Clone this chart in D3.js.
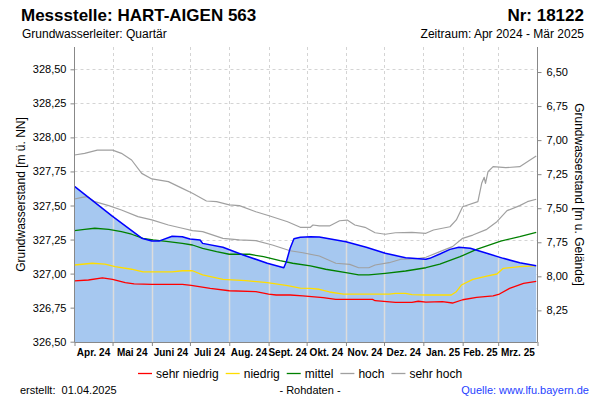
<!DOCTYPE html>
<html><head><meta charset="utf-8">
<script src="https://cdn.jsdelivr.net/npm/d3@7"></script>
<style>
body{margin:0;background:#fff}
svg{display:block;font-family:"Liberation Sans",Arial,sans-serif}
</style>
</head><body>
<svg id="c" width="600" height="400"></svg>
<script>
// ---------- DATA ----------
const monthLabels = ["Apr. 24","Mai 24","Juni 24","Juli 24","Aug. 24","Sept. 24","Okt. 24","Nov. 24","Dez. 24","Jan. 25","Feb. 25","Mrz. 25"];
const monthStarts = ["2024-04-01","2024-05-01","2024-06-01","2024-07-01","2024-08-01","2024-09-01","2024-10-01","2024-11-01","2024-12-01","2025-01-01","2025-02-01","2025-03-01","2025-04-01"];
const leftTicks = [326.5,326.75,327,327.25,327.5,327.75,328,328.25,328.5];
const rightTicks = [6.5,6.75,7,7.25,7.5,7.75,8,8.25];
const gelaende = 334.98;

const messwerte = [["2024-04-01",327.64],["2024-05-01",327.42],["2024-05-24",327.26],["2024-06-01",327.24],["2024-06-07",327.24],["2024-06-17",327.274],["2024-06-25",327.271],["2024-07-01",327.254],["2024-07-09",327.247],["2024-07-11",327.222],["2024-07-27",327.193],["2024-08-12",327.137],["2024-08-31",327.076],["2024-09-13",327.043],["2024-09-15",327.087],["2024-09-18",327.186],["2024-09-21",327.256],["2024-09-26",327.267],["2024-10-04",327.271],["2024-10-11",327.269],["2024-11-01",327.234],["2024-11-17",327.193],["2024-12-02",327.149],["2024-12-18",327.117],["2025-01-03",327.105],["2025-01-06",327.112],["2025-01-14",327.144],["2025-01-22",327.178],["2025-01-29",327.193],["2025-02-07",327.186],["2025-02-20",327.149],["2025-03-05",327.112],["2025-03-18",327.080],["2025-03-31",327.058]];

const sehrNiedrig = [["2024-04-01",326.946],["2024-04-12",326.953],["2024-04-23",326.968],["2024-05-01",326.958],["2024-05-11",326.933],["2024-05-18",326.924],["2024-06-01",326.921],["2024-06-25",326.921],["2024-07-02",326.914],["2024-07-17",326.892],["2024-08-01",326.874],["2024-08-22",326.867],["2024-09-01",326.850],["2024-09-07",326.843],["2024-09-18",326.843],["2024-09-28",326.836],["2024-10-14",326.823],["2024-10-24",326.811],["2024-11-22",326.811],["2024-11-24",326.801],["2024-12-10",326.789],["2024-12-23",326.789],["2024-12-28",326.797],["2025-01-03",326.791],["2025-01-16",326.794],["2025-01-24",326.784],["2025-02-01",326.808],["2025-02-12",326.826],["2025-02-25",326.836],["2025-03-02",326.850],["2025-03-10",326.892],["2025-03-21",326.929],["2025-03-31",326.943]];

const niedrig = [["2024-04-01",327.063],["2024-04-15",327.076],["2024-04-25",327.070],["2024-05-03",327.051],["2024-05-16",327.032],["2024-05-25",327.012],["2024-06-17",327.012],["2024-06-25",327.021],["2024-07-03",327.021],["2024-07-11",326.990],["2024-07-27",326.958],["2024-08-14",326.948],["2024-08-31",326.933],["2024-09-16",326.911],["2024-09-26",326.894],["2024-10-04",326.892],["2024-10-11",326.885],["2024-10-19",326.865],["2024-10-30",326.850],["2024-12-05",326.850],["2024-12-10",326.855],["2024-12-18",326.855],["2024-12-23",326.845],["2025-01-03",326.843],["2025-01-23",326.843],["2025-01-27",326.867],["2025-01-31",326.916],["2025-02-09",326.958],["2025-02-20",326.982],["2025-02-28",326.997],["2025-03-05",327.039],["2025-03-18",327.051],["2025-03-30",327.056]];

const mittel = [["2024-04-01",327.315],["2024-04-09",327.325],["2024-04-17",327.333],["2024-04-28",327.325],["2024-05-08",327.308],["2024-05-16",327.289],["2024-05-25",327.259],["2024-06-02",327.247],["2024-06-14",327.234],["2024-06-25",327.222],["2024-07-03",327.210],["2024-07-11",327.186],["2024-07-22",327.161],["2024-08-01",327.142],["2024-08-17",327.142],["2024-08-28",327.124],["2024-09-10",327.095],["2024-09-20",327.076],["2024-10-04",327.056],["2024-10-16",327.032],["2024-11-01",327.007],["2024-11-11",326.990],["2024-11-19",326.990],["2024-12-02",327.002],["2024-12-18",327.019],["2025-01-03",327.043],["2025-01-14",327.070],["2025-01-30",327.124],["2025-02-12",327.178],["2025-03-03",327.239],["2025-03-18",327.271],["2025-03-31",327.303]];

const hoch = [["2024-04-01",327.548],["2024-04-07",327.560],["2024-04-11",327.565],["2024-04-17",327.528],["2024-04-28",327.499],["2024-05-08",327.467],["2024-05-21",327.418],["2024-06-01",327.394],["2024-06-14",327.357],["2024-06-25",327.333],["2024-07-03",327.315],["2024-07-11",327.308],["2024-07-27",327.259],["2024-08-09",327.247],["2024-08-22",327.242],["2024-09-04",327.210],["2024-09-18",327.168],["2024-09-28",327.153],["2024-10-11",327.129],["2024-10-24",327.076],["2024-11-04",327.068],["2024-11-11",327.043],["2024-11-19",327.043],["2024-11-24",327.063],["2024-12-05",327.080],["2024-12-15",327.107],["2024-12-26",327.109],["2025-01-03",327.120],["2025-01-06",327.131],["2025-01-14",327.161],["2025-01-24",327.198],["2025-02-01",327.259],["2025-02-09",327.283],["2025-02-20",327.325],["2025-02-28",327.381],["2025-03-08",327.462],["2025-03-18",327.499],["2025-03-24",327.528],["2025-03-31",327.546]];

const sehrHoch = [["2024-04-01",327.871],["2024-04-09",327.883],["2024-04-19",327.907],["2024-05-01",327.907],["2024-05-08",327.883],["2024-05-16",327.834],["2024-05-24",327.736],["2024-06-01",327.695],["2024-06-14",327.675],["2024-06-25",327.626],["2024-07-03",327.590],["2024-07-14",327.533],["2024-07-22",327.528],["2024-08-01",327.504],["2024-08-09",327.499],["2024-08-22",327.454],["2024-09-02",327.423],["2024-09-16",327.381],["2024-09-26",327.340],["2024-10-04",327.340],["2024-10-06",327.357],["2024-10-11",327.350],["2024-10-19",327.350],["2024-10-27",327.388],["2024-11-02",327.393],["2024-11-08",327.357],["2024-11-16",327.340],["2024-11-24",327.300],["2024-12-02",327.289],["2024-12-10",327.300],["2024-12-23",327.303],["2025-01-03",327.296],["2025-01-09",327.320],["2025-01-22",327.344],["2025-01-27",327.394],["2025-02-01",327.491],["2025-02-13",327.528],["2025-02-16",327.663],["2025-02-18",327.707],["2025-02-19",327.663],["2025-02-21",327.748],["2025-02-25",327.785],["2025-03-07",327.778],["2025-03-18",327.785],["2025-03-24",327.822],["2025-03-31",327.863]];

const legendItems = [["sehr niedrig","#ff0000"],["niedrig","#ffdd00"],["mittel","#008000"],["hoch","#a0a0a0"],["sehr hoch","#a0a0a0"]];

// ---------- CHART ----------
const parse = d3.utcParse("%Y-%m-%d");
const svg = d3.select("#c");
const L = 74.5, R = 537.5, T = 47, B = 342;
const x = d3.scaleUtc().domain([parse(monthStarts[0]), parse(monthStarts[12])]).range([L, R]);
const y = d3.scaleLinear().domain([326.5, 328.5]).range([341.7, 69.3]);
const yr = d3.scaleLinear().domain([gelaende - 326.5, gelaende - 328.5]).range([341.7, 69.3]);
const fmt = v => d3.format(".2f")(v).replace(".", ",");
const snap = v => Math.round(v) + 0.5;

// Grid (dashed)
const grid = svg.append("g").attr("stroke", "#d4d4d4").attr("stroke-dasharray", "3,3").attr("stroke-width", 1);
leftTicks.forEach(t => grid.append("line").attr("x1", L).attr("x2", R).attr("y1", snap(y(t))).attr("y2", snap(y(t))));
monthStarts.slice(1, 12).forEach(m => grid.append("line").attr("x1", snap(x(parse(m)))).attr("x2", snap(x(parse(m)))).attr("y1", T).attr("y2", B));

// Area fill
const pts = messwerte.map(d => [parse(d[0]), d[1]]);
const area = d3.area().x(d => x(d[0])).y0(B).y1(d => y(d[1]));
svg.append("clipPath").attr("id", "ac").append("path").attr("d", area(pts));
svg.append("path").attr("d", area(pts)).attr("fill", "#a6c8f0");
const vg = svg.append("g").attr("clip-path", "url(#ac)").attr("stroke", "#dcdcdc").attr("stroke-width", 1.5);
monthStarts.slice(1, 12).forEach(m => vg.append("line").attr("x1", snap(x(parse(m)))).attr("x2", snap(x(parse(m)))).attr("y1", T).attr("y2", B));

// Lines
const line = d3.line().x(d => x(parse(d[0]))).y(d => y(d[1]));
const series = [[sehrNiedrig, "#ff0000", 1.3], [niedrig, "#ffdd00", 1.3], [mittel, "#008000", 1.3], [hoch, "#a0a0a0", 1.2], [sehrHoch, "#a0a0a0", 1.2], [messwerte, "#0000ff", 1.5]];
series.forEach(([data, col, w]) => svg.append("path").attr("d", line(data)).attr("fill", "none").attr("stroke", col).attr("stroke-width", w).attr("stroke-linejoin", "round"));

// Axes
const axCol = "#888";
const lAx = svg.append("g").attr("transform", `translate(${L},0)`).call(d3.axisLeft(y).tickValues(leftTicks).tickFormat(fmt).tickSize(4).tickSizeOuter(0).tickPadding(4));
const rAx = svg.append("g").attr("transform", `translate(${R},0)`).call(d3.axisRight(yr).tickValues(rightTicks).tickFormat(fmt).tickSize(4).tickSizeOuter(0).tickPadding(5));
const xAx = svg.append("g").attr("transform", `translate(0,${B})`).call(d3.axisBottom(x).tickValues(monthStarts.map(parse)).tickFormat("").tickSize(4).tickSizeOuter(0));
[lAx, rAx, xAx].forEach(g => {
  g.select(".domain").remove();
  g.selectAll("line").attr("stroke", axCol);
  g.selectAll("text").attr("fill", "#000").attr("font-size", 11).attr("font-family", "Liberation Sans, Arial, sans-serif");
});
svg.append("line").attr("x1", L).attr("x2", L).attr("y1", T).attr("y2", B).attr("stroke", axCol);
svg.append("line").attr("x1", R).attr("x2", R).attr("y1", T).attr("y2", B).attr("stroke", axCol);
svg.append("line").attr("x1", L).attr("x2", R).attr("y1", B + 0.5).attr("y2", B + 0.5).attr("stroke", axCol);

// Month labels
monthLabels.forEach((lab, i) => {
  const mid = new Date((parse(monthStarts[i]).getTime() + parse(monthStarts[i + 1]).getTime()) / 2);
  svg.append("text").attr("x", x(mid)).attr("y", 356).attr("text-anchor", "middle").attr("font-size", 10).attr("font-weight", "bold").text(lab);
});

// Titles
svg.append("text").attr("x", 21).attr("y", 21).attr("font-size", 17).attr("font-weight", "bold").text("Messstelle: HART-AIGEN 563");
svg.append("text").attr("x", 584).attr("y", 21).attr("text-anchor", "end").attr("font-size", 17).attr("font-weight", "bold").text("Nr: 18122");
svg.append("text").attr("x", 22).attr("y", 38).attr("font-size", 12).text("Grundwasserleiter: Quartär");
svg.append("text").attr("x", 584).attr("y", 38).attr("text-anchor", "end").attr("font-size", 12).text("Zeitraum: Apr 2024 - Mär 2025");

// Axis titles
svg.append("text").attr("transform", `translate(25,${(T + B) / 2}) rotate(-90)`).attr("text-anchor", "middle").attr("font-size", 12).text("Grundwasserstand [m ü. NN]");
svg.append("text").attr("transform", `translate(575,${(T + B) / 2}) rotate(90)`).attr("text-anchor", "middle").attr("font-size", 12).text("Grundwasserstand [m u. Gelände]");

// Legend
const lg = svg.append("g");
let lx = 0;
legendItems.forEach(([lab, col]) => {
  lg.append("line").attr("x1", lx).attr("x2", lx + 14).attr("y1", 373.5).attr("y2", 373.5).attr("stroke", col).attr("stroke-width", 1.3);
  const t = lg.append("text").attr("x", lx + 18).attr("y", 378).attr("font-size", 12).text(lab);
  lx += 18 + t.node().getComputedTextLength() + 7;
});
lx -= 7;
lg.attr("transform", `translate(${Math.round(300 - lx / 2)},0)`);

// Footer
svg.append("text").attr("x", 20).attr("y", 394).attr("font-size", 11).style("white-space", "pre").text("erstellt:  01.04.2025");
svg.append("text").attr("x", 310).attr("y", 394).attr("text-anchor", "middle").attr("font-size", 11).text("- Rohdaten -");
svg.append("text").attr("x", 589).attr("y", 394).attr("text-anchor", "end").attr("font-size", 11).attr("fill", "#1f3fff").text("Quelle: www.lfu.bayern.de");
</script>
</body></html>
